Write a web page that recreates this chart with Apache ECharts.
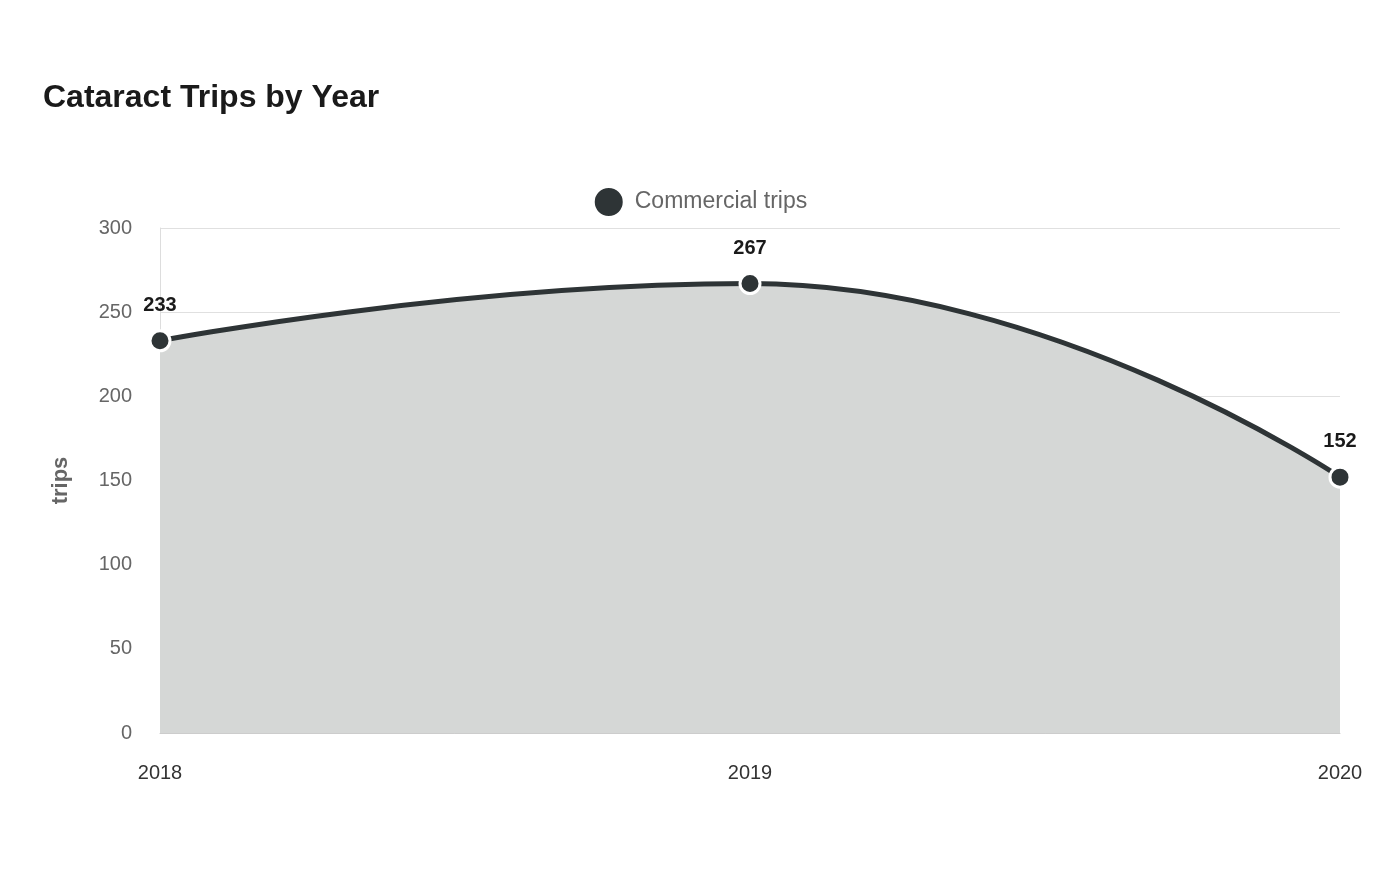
<!DOCTYPE html>
<html><head><meta charset="utf-8">
<script src="https://cdn.jsdelivr.net/npm/echarts@6/dist/echarts.min.js"></script>
<style>html,body{margin:0;padding:0;background:#fff}#c{width:1400px;height:880px}</style>
</head><body><div id="c"></div>
<script>
const years = ['2018','2019','2020'];
const trips = [233, 267, 152];
const yTicks = [0, 300, 50];
const chart = echarts.init(document.getElementById('c'));
chart.setOption({
  backgroundColor:'#fff',
  title:{text:'Cataract Trips by Year',left:38,top:77,textStyle:{fontFamily:'Liberation Sans, Arial',fontSize:32,fontWeight:'bold',color:'#1a1a1a'}},
  legend:{top:181,left:'center',icon:'circle',itemWidth:30,itemHeight:30,itemGap:10,textStyle:{fontFamily:'Liberation Sans, Arial',fontSize:23,color:'#666',padding:[0,0,0,6]},data:['Commercial trips']},
  grid:{left:160,right:60,top:228,bottom:147},
  xAxis:{type:'category',data:years,boundaryGap:false,
    axisLine:{lineStyle:{color:'#ccc'}},axisTick:{show:false},
    axisLabel:{fontFamily:'Liberation Sans, Arial',fontSize:20,color:'#333',margin:30}},
  yAxis:{type:'value',min:yTicks[0],max:yTicks[1],interval:yTicks[2],name:'trips',nameLocation:'middle',nameGap:88,
    nameTextStyle:{fontFamily:'Liberation Sans, Arial',fontSize:22,fontWeight:'bold',color:'#666'},
    axisLine:{show:true,lineStyle:{color:'#ddd'}},axisTick:{show:false},
    splitLine:{lineStyle:{color:'#e0e0e0'}},
    axisLabel:{fontFamily:'Liberation Sans, Arial',fontSize:20,color:'#666',margin:28}},
  series:[{name:'Commercial trips',type:'line',data:trips,smooth:0.5,
    symbol:'circle',symbolSize:20,
    itemStyle:{color:'#2e3436',borderColor:'#fff',borderWidth:3},
    lineStyle:{color:'#2e3436',width:5},
    areaStyle:{color:'#d5d7d6',opacity:1},
    label:{show:true,position:'top',distance:14,fontFamily:'Liberation Sans, Arial',fontSize:20,fontWeight:'bold',color:'#1a1a1a'}}]
});
</script></body></html>
